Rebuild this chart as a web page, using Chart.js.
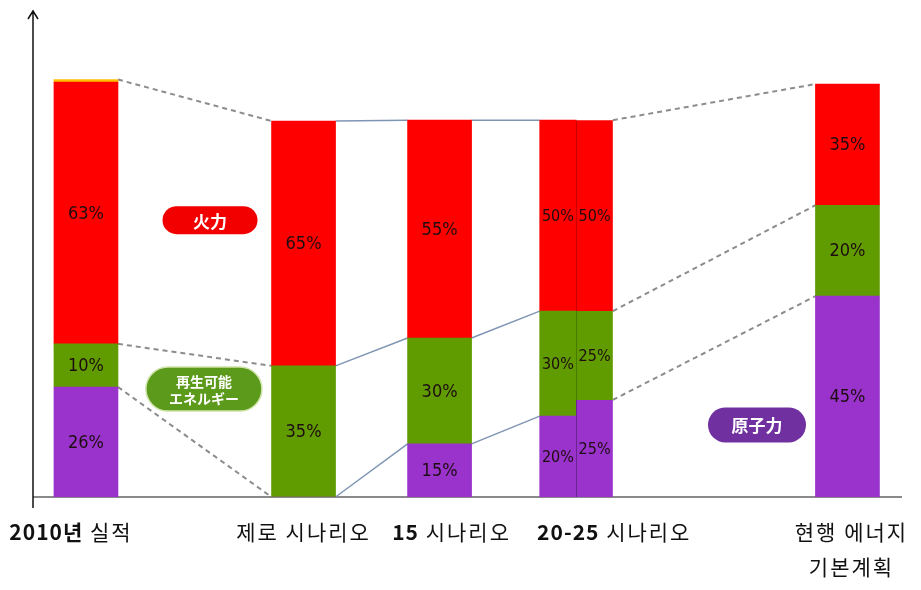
<!DOCTYPE html>
<html>
<head>
<meta charset="utf-8">
<script src="https://cdn.jsdelivr.net/npm/chart.js@4.4.1/dist/chart.umd.min.js"></script>
<style>
  html, body { margin: 0; background: #fff; }
  #wrap { width: 921px; height: 590px; }
</style>
</head>
<body>
<div id="wrap"><canvas id="mixChart"></canvas></div>
<script>
// power mix per scenario, bar heights relative to 2010 total demand = 100
const categories = ['2010년 실적', '제로 시나리오', '15 시나리오', '20-25 시나리오', '현행 에너지\n기본계획'];
// index 3 (20-25) is drawn as two half bars, see the *Split arrays
const nuclear   = [26.5, 0,    12.8, null, 48.4];
const renewable = [10.4, 31.6, 25.5, null, 21.9];
const thermal   = [63.1, 59.0, 52.5, null, 29.2];
const other     = [0.6,  null, null, null, null];
const nuclearSplit   = [19.5, 23.4];
const renewableSplit = [25.3, 21.4];
const thermalSplit   = [46.0, 46.0];

// labels printed on the bars
const nuclearPct   = ['26%', '',    '15%', null, '45%'];
const renewablePct = ['10%', '35%', '30%', null, '20%'];
const thermalPct   = ['63%', '65%', '55%', null, '35%'];
const nuclearSplitPct   = ['20%', '25%'];
const renewableSplitPct = ['30%', '25%'];
const thermalSplitPct   = ['50%', '50%'];

const badgeTexts = ['火力', '再生可能\nエネルギー', '原子力'];

// layout (x in slot units, 0..40)
const slotX = [2.43, 12.41, 18.65, null, 37.36];
const splitX = [24.08, 25.76];
const labelShift = [-15, 0, 12, 38, 4];
const badgeSpots = [
  { x: 8.12, y: 66.7, w: 95, h: 28, color: '#f20000' },
  { x: 7.84, y: 26.0, w: 116, h: 44, color: '#5c9a1c', edge: '#cfe3a8' },
  { x: 33.21, y: 17.35, w: 98, h: 35, color: '#7030a0' }
];
const connStyle = ['dashed', 'solid', 'solid', 'dashed'];

const PURPLE = '#9933cc';
const GREEN = '#609c00';
const RED = '#ff0000';
const YELLOW = '#ffc000';
const MAIN_W = 64;
const SPLIT_W = 36.5;
const PCT_FONT = '"Liberation Sans Narrow", "DejaVu Sans Condensed", sans-serif';

const mainIdx = [0, 1, 2, 4];
const pts = arr => mainIdx.map(i => ({ x: slotX[i], y: arr[i] }));
const splitPts = arr => splitX.map((x, k) => ({ x: x, y: arr[k] }));
const splitBorder = ctx => ctx.dataIndex === 1 ? { left: 1, right: 0, top: 0, bottom: 0 } : 0;

function levels(n, r, t, o) {
  return [n, n + r, n + r + t + (o || 0)];
}

const overlay = {
  id: 'overlay',
  beforeDatasetsDraw(chart) {
    const ctx = chart.ctx;
    const xs = chart.scales.x, ys = chart.scales.y;
    const area = chart.chartArea;
    const y0 = ys.getPixelForValue(0);

    // baseline
    ctx.save();
    ctx.strokeStyle = '#8a8a8a';
    ctx.lineWidth = 2;
    ctx.beginPath();
    ctx.moveTo(area.left, y0);
    ctx.lineTo(area.right - 3, y0);
    ctx.stroke();

    // connector lines between neighbouring bars
    const cols = [];
    [0, 1, 2].forEach(i => {
      const lv = levels(nuclear[i], renewable[i], thermal[i], other[i]);
      const cx = xs.getPixelForValue(slotX[i]);
      cols.push({ l: cx - MAIN_W / 2, r: cx + MAIN_W / 2, lv: lv, rv: lv });
    });
    cols.push({
      l: xs.getPixelForValue(splitX[0]) - SPLIT_W / 2,
      r: xs.getPixelForValue(splitX[1]) + SPLIT_W / 2,
      lv: levels(nuclearSplit[0], renewableSplit[0], thermalSplit[0]),
      rv: levels(nuclearSplit[1], renewableSplit[1], thermalSplit[1])
    });
    const lv4 = levels(nuclear[4], renewable[4], thermal[4], other[4]);
    const c4 = xs.getPixelForValue(slotX[4]);
    cols.push({ l: c4 - MAIN_W / 2, r: c4 + MAIN_W / 2, lv: lv4, rv: lv4 });

    for (let c = 0; c < cols.length - 1; c++) {
      const a = cols[c], b = cols[c + 1];
      if (connStyle[c] === 'dashed') {
        ctx.strokeStyle = '#8c8c8c';
        ctx.lineWidth = 2;
        ctx.setLineDash([5, 4]);
      } else {
        ctx.strokeStyle = '#7f95b3';
        ctx.lineWidth = 1.5;
        ctx.setLineDash([]);
      }
      for (let k = 0; k < 3; k++) {
        ctx.beginPath();
        ctx.moveTo(a.r, ys.getPixelForValue(a.rv[k]));
        ctx.lineTo(b.l, ys.getPixelForValue(b.lv[k]));
        ctx.stroke();
      }
    }
    ctx.restore();
  },
  afterDatasetsDraw(chart) {
    const ctx = chart.ctx;
    const xs = chart.scales.x, ys = chart.scales.y;
    const area = chart.chartArea;
    const y0 = ys.getPixelForValue(0);

    // y axis with arrow
    ctx.save();
    ctx.strokeStyle = '#111';
    ctx.lineWidth = 1.5;
    ctx.beginPath();
    ctx.moveTo(area.left, y0 + 11);
    ctx.lineTo(area.left, area.top + 1);
    ctx.moveTo(area.left - 5, area.top + 9);
    ctx.lineTo(area.left, area.top + 1);
    ctx.lineTo(area.left + 5, area.top + 9);
    ctx.stroke();

    // percentages on the bars
    ctx.fillStyle = '#1e0d10';
    ctx.textAlign = 'center';
    ctx.textBaseline = 'middle';
    const pctSets = [nuclearPct, renewablePct, thermalPct];
    pctSets.forEach((labels, d) => {
      const meta = chart.getDatasetMeta(d);
      ctx.font = '18px ' + PCT_FONT;
      meta.data.forEach((el, j) => {
        const txt = labels[mainIdx[j]];
        if (!txt) return;
        const p = el.getProps(['x', 'y', 'base'], true);
        ctx.fillText(txt, p.x, (p.y + p.base) / 2 + 1);
      });
    });
    const splitSets = [nuclearSplitPct, renewableSplitPct, thermalSplitPct];
    splitSets.forEach((labels, d) => {
      const meta = chart.getDatasetMeta(4 + d);
      ctx.font = '16px ' + PCT_FONT;
      meta.data.forEach((el, j) => {
        const p = el.getProps(['x', 'y', 'base'], true);
        ctx.fillText(labels[j], p.x, (p.y + p.base) / 2 + 1);
      });
    });

    // badges
    badgeSpots.forEach((b, i) => {
      const cx = xs.getPixelForValue(b.x), cy = ys.getPixelForValue(b.y);
      ctx.beginPath();
      ctx.roundRect(cx - b.w / 2, cy - b.h / 2, b.w, b.h, b.h / 2);
      ctx.fillStyle = b.color;
      ctx.fill();
      if (b.edge) {
        ctx.lineWidth = 1.5;
        ctx.strokeStyle = b.edge;
        ctx.stroke();
      }
      ctx.fillStyle = '#fff';
      const lines = badgeTexts[i].split('\n');
      ctx.font = lines.length > 1 ? 'bold 14px "Noto Sans CJK JP", sans-serif' : 'bold 17px "Noto Sans CJK JP", sans-serif';
      lines.forEach((ln, k) => {
        ctx.fillText(ln, cx, cy + (k - (lines.length - 1) / 2) * 17 + 1);
      });
    });

    // category labels, number part bold
    ctx.fillStyle = '#111';
    ctx.textAlign = 'left';
    categories.forEach((cat, i) => {
      const base = i === 3 ? (xs.getPixelForValue(splitX[0]) + xs.getPixelForValue(splitX[1])) / 2
                           : xs.getPixelForValue(slotX[i]);
      const cx = base + labelShift[i];
      cat.split('\n').forEach((line, k) => {
        const m = line.match(/^[0-9-]+년?/);
        const bold = m ? m[0] : '';
        const rest = line.slice(bold.length);
        ctx.letterSpacing = '1px';
        ctx.font = 'bold 21px "Noto Sans CJK KR", sans-serif';
        const wb = bold ? ctx.measureText(bold).width : 0;
        ctx.letterSpacing = '2px';
        ctx.font = '21px "Noto Sans CJK KR", sans-serif';
        const wr = ctx.measureText(rest).width;
        let x = cx - (wb + wr) / 2;
        const y = y0 + 35 + k * 35;
        if (bold) {
          ctx.letterSpacing = '1px';
          ctx.font = 'bold 21px "Noto Sans CJK KR", sans-serif';
          ctx.fillText(bold, x, y);
          x += wb;
        }
        ctx.letterSpacing = '2px';
        ctx.font = '21px "Noto Sans CJK KR", sans-serif';
        ctx.fillText(rest, x, y);
      });
    });
    ctx.restore();
  }
};

new Chart(document.getElementById('mixChart'), {
  type: 'bar',
  data: {
    datasets: [
      { label: '원자력', data: pts(nuclear), backgroundColor: PURPLE, barThickness: MAIN_W },
      { label: '재생가능에너지', data: pts(renewable), backgroundColor: GREEN, barThickness: MAIN_W },
      { label: '화력', data: pts(thermal), backgroundColor: RED, barThickness: MAIN_W },
      { label: '기타', data: pts(other), backgroundColor: YELLOW, barThickness: MAIN_W },
      { label: '원자력', data: splitPts(nuclearSplit), backgroundColor: PURPLE, barThickness: SPLIT_W,
        borderColor: '#6a2590', borderWidth: splitBorder },
      { label: '재생가능에너지', data: splitPts(renewableSplit), backgroundColor: GREEN, barThickness: SPLIT_W,
        borderColor: '#4a7a00', borderWidth: splitBorder },
      { label: '화력', data: splitPts(thermalSplit), backgroundColor: RED, barThickness: SPLIT_W,
        borderColor: '#c80000', borderWidth: splitBorder }
    ]
  },
  options: {
    responsive: true,
    maintainAspectRatio: false,
    animation: false,
    layout: { padding: { left: 33, right: 16, top: 10, bottom: 93 } },
    plugins: {
      legend: { display: false },
      tooltip: { enabled: false }
    },
    scales: {
      x: { type: 'linear', min: 0, max: 40, offset: false, grid: { offset: false }, stacked: true, display: false },
      y: { min: 0, max: 117.35, stacked: true, display: false }
    }
  },
  plugins: [overlay]
});
</script>
</body>
</html>
